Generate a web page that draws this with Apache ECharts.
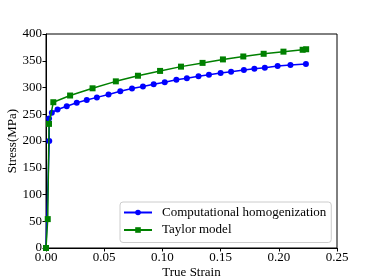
<!DOCTYPE html>
<html>
<head>
<meta charset="utf-8">
<script src="https://cdn.jsdelivr.net/npm/echarts@6/dist/echarts.min.js"></script>
<style>html,body{margin:0;padding:0;background:#fff;}#c{width:374px;height:280px;}</style>
</head>
<body>
<div id="c"></div>
<script>
const seriesNames = ['Computational homogenization', 'Taylor model'];
const homogenizationStrain = [0, 0.0028, 0.0026, 0.005, 0.0099, 0.0178, 0.0264, 0.035, 0.0437, 0.0537, 0.0638, 0.0739, 0.0833, 0.0925, 0.102, 0.112, 0.121, 0.131, 0.140, 0.150, 0.159, 0.170, 0.179, 0.188, 0.199, 0.210, 0.2233];
const homogenizationStress = [0, 200, 242, 253, 259, 265, 271.5, 276.5, 281.5, 287, 293, 298, 302, 306, 310, 314.5, 317.5, 321, 324, 327, 329.5, 332.5, 335, 337, 340, 342, 344];
const taylorStrain = [0, 0.0015, 0.0026, 0.0063, 0.0207, 0.040, 0.060, 0.079, 0.098, 0.116, 0.1345, 0.152, 0.1695, 0.187, 0.204, 0.2205, 0.2235];
const taylorStress = [0, 54, 232, 272.5, 285, 298.5, 311.5, 322, 331, 339, 346, 352.5, 358, 363, 367, 370.5, 371.5];
const xTicks = [0, 0.05, 0.10, 0.15, 0.20, 0.25];
const yTicks = [0, 50, 100, 150, 200, 250, 300, 350, 400];

const font = 'Liberation Serif';
const chart = echarts.init(document.getElementById('c'), null, {renderer: 'canvas'});
const zip = (a, b) => a.map((v, i) => [v, b[i]]);
chart.setOption({
  animation: false,
  backgroundColor: '#fff',
  grid: {left: 46, right: 37, top: 34, bottom: 32, containLabel: false, outerBoundsMode: 'none',
         show: true, borderColor: '#000', borderWidth: 1, backgroundColor: 'transparent'},
  xAxis: {
    type: 'value', min: xTicks[0], max: xTicks[xTicks.length - 1], interval: 0.05,
    name: 'True Strain', nameLocation: 'middle', nameGap: 18, nameMoveOverlap: false,
    nameTextStyle: {fontFamily: font, fontSize: 13, color: '#000'},
    axisLine: {lineStyle: {color: '#000', width: 1}},
    axisTick: {show: true, length: 3.5, lineStyle: {color: '#000'}},
    axisLabel: {fontFamily: font, fontSize: 13, color: '#000', margin: 3, formatter: v => v.toFixed(2)},
    splitLine: {show: false}
  },
  yAxis: {
    type: 'value', min: yTicks[0], max: yTicks[yTicks.length - 1], interval: 50,
    name: 'Stress(MPa)', nameLocation: 'middle', nameGap: 27, nameMoveOverlap: false,
    nameTextStyle: {fontFamily: font, fontSize: 13, color: '#000'},
    axisLine: {lineStyle: {color: '#000', width: 1}},
    axisTick: {show: true, length: 3.5, lineStyle: {color: '#000'}},
    axisLabel: {fontFamily: font, fontSize: 13, color: '#000', margin: 4},
    splitLine: {show: false}
  },
  legend: {
    left: 120, top: 202, orient: 'vertical',
    backgroundColor: '#fff', borderColor: '#ccc', borderWidth: 1, borderRadius: 3,
    padding: [4, 5, 6, 3], itemGap: 4.5, itemWidth: 28, itemHeight: 7,
    textStyle: {fontFamily: font, fontSize: 13, color: '#000', padding: [0, 0, 0, 5]},
    data: seriesNames
  },
  series: [
    {
      name: seriesNames[0], type: 'line', data: zip(homogenizationStrain, homogenizationStress),
      symbol: 'circle', symbolSize: 6, color: '#0000ff',
      lineStyle: {width: 1.5, color: '#0000ff'}, itemStyle: {color: '#0000ff'}, z: 2
    },
    {
      name: seriesNames[1], type: 'line', data: zip(taylorStrain, taylorStress),
      symbol: 'rect', symbolSize: 6, color: '#008000',
      lineStyle: {width: 1.5, color: '#008000'}, itemStyle: {color: '#008000'}, z: 3
    }
  ]
});
</script>
</body>
</html>
